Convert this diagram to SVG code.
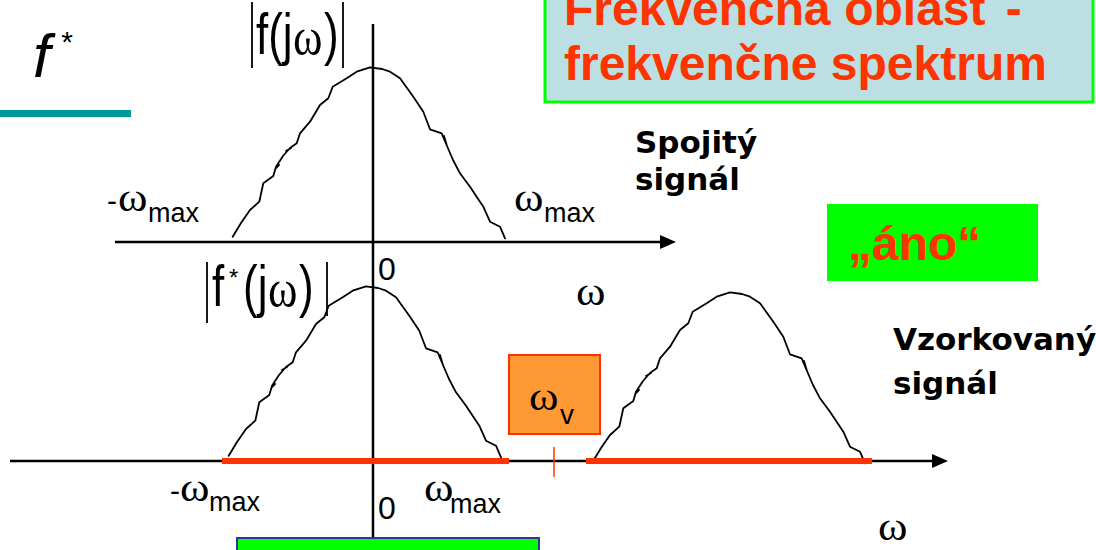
<svg xmlns="http://www.w3.org/2000/svg" xmlns:xlink="http://www.w3.org/1999/xlink" width="1096" height="550" viewBox="0 0 1096 550">
<defs>
<style>
.ax{stroke:#000;stroke-width:2.5;fill:none}
.curve{stroke:#000;stroke-width:1.8;fill:none;stroke-linejoin:round;stroke-linecap:round}
.red{stroke:#FF3300;stroke-width:6;fill:none}
.sans{font-family:"Liberation Sans",Arial,sans-serif;fill:#000}
.om{font-family:"Liberation Serif","Times New Roman",serif;fill:#000;font-size:40px}
.title{font-family:"Liberation Sans",Arial,sans-serif;font-weight:bold;font-size:48px;fill:#FF3300}
.comic{font-family:"DejaVu Sans",sans-serif;font-weight:bold;font-size:31px;fill:#000}
.bar{stroke:#000;stroke-width:1.8}
</style>
<path id="hump" d="M232.7,236.7 L241,223 L250,210 L259.3,201.7 L263.3,183.3 L273.3,176 L276,166.7 L283,156 L290,148 L296.7,143.3 L300,133.3 L310,121.7 L320,105 L328.3,98.3 L332.7,86.7 L346.7,78.3 L356.7,71.7 L370,67.3 L382,69 L390,71.7 L400,78.3 L413.3,96.7 L423.3,111.7 L430,129.3 L441.7,133.3 L447,146 L453,160 L460,173.3 L470,186.7 L483.3,206.7 L490,221.7 L500,226.7 L505,238.3 M286,151 l5,-3 M276,168 l3,-3 M444,136 l3,10"/>
</defs>

<g id="title">
<rect x="545" y="-10" width="548" height="112" fill="#BBDFE2" stroke="#00FF00" stroke-width="3"/>
<text class="title" x="564" y="25">Frekvenčná oblasť -</text>
<text class="title" x="564" y="80">frekvenčne spektrum</text>
</g>

<g id="fstar">
<text class="sans" x="33" y="77" font-size="62" font-style="italic">f</text>
<text class="sans" x="60" y="52" font-size="30" font-style="italic">*</text>
<rect x="0" y="110" width="131" height="7" fill="#009999"/>
</g>

<g id="ano">
<rect x="827" y="204" width="211" height="77" fill="#00FF00"/>
<text class="title" x="848" y="260">„áno“</text>
</g>

<g id="spojity">
<text class="comic" x="635" y="153" font-size="32">Spojitý</text>
<text class="comic" x="635" y="190" font-size="32">signál</text>
</g>

<g id="vzorkovany">
<text class="comic" x="893" y="350">Vzorkovaný</text>
<text class="comic" x="893" y="394">signál</text>
</g>

<g id="connectors">
<line class="ax" x1="373" y1="24" x2="373" y2="537"/>
<line class="ax" x1="115" y1="242" x2="662" y2="242"/>
<polygon points="676,242 660,235 660,249" fill="#000"/>
<line class="ax" x1="10" y1="461" x2="934" y2="461"/>
<polygon points="948,461 932,454 932,468" fill="#000"/>
<use xlink:href="#hump" class="curve"/>
<use xlink:href="#hump" class="curve" transform="translate(-4,219)"/>
<use xlink:href="#hump" class="curve" transform="translate(360,225)"/>
<line class="red" x1="222" y1="461" x2="509" y2="461"/>
<line class="red" x1="586" y1="461" x2="872" y2="461"/>
<line x1="554" y1="447" x2="554" y2="477" stroke="#FF3300" stroke-width="1.5"/>
</g>

<g id="label-fjw">
<line class="bar" x1="252" y1="2" x2="252" y2="68"/>
<line class="bar" x1="343" y1="2" x2="343" y2="68"/>
<text class="sans" font-size="44" transform="translate(256,54) scale(1,1.3)">f(j</text>
<text class="om" transform="translate(293,54) scale(1.12,1.3)">ω</text>
<text class="sans" font-size="44" transform="translate(324,54) scale(1,1.3)">)</text>
</g>

<g id="label-fstarjw">
<line class="bar" x1="207" y1="262" x2="207" y2="323"/>
<line class="bar" x1="327" y1="262" x2="327" y2="316"/>
<text class="sans" font-size="44" transform="translate(212,306) scale(1,1.3)">f</text>
<text class="sans" font-size="24" x="229" y="286">*</text>
<text class="sans" font-size="44" transform="translate(243,306) scale(1,1.3)">(j</text>
<text class="om" transform="translate(268,306) scale(1.12,1.3)">ω</text>
<text class="sans" font-size="44" transform="translate(299,306) scale(1,1.3)">)</text>
</g>

<g id="labels-top">
<text class="sans" font-size="30" x="107" y="211">-</text>
<text class="om" transform="translate(118,211) scale(1.12,1)">ω</text>
<text class="sans" font-size="27" x="148" y="222">max</text>
<text class="om" transform="translate(514,211) scale(1.12,1)">ω</text>
<text class="sans" font-size="27" x="544" y="222">max</text>
<text class="sans" font-size="32" x="378" y="280">0</text>
<text class="om" transform="translate(576,305) scale(1.12,1)">ω</text>
</g>

<g id="labels-bottom">
<text class="sans" font-size="30" x="170" y="501">-</text>
<text class="om" transform="translate(180,501) scale(1.12,1)">ω</text>
<text class="sans" font-size="27" x="209" y="511">max</text>
<text class="om" transform="translate(424,501) scale(1.12,1)">ω</text>
<text class="sans" font-size="27" x="450" y="513">max</text>
<text class="sans" font-size="32" x="378" y="519">0</text>
<text class="om" transform="translate(878,540) scale(1.12,1)">ω</text>
</g>

<g id="omega-v">
<rect x="509" y="355" width="91" height="79" fill="#FF9933" stroke="#FF3300" stroke-width="2"/>
<text class="om" transform="translate(529,410) scale(1.12,1)">ω</text>
<text class="sans" font-size="28" x="560" y="424">v</text>
</g>

<g id="bottom-box">
<rect x="237" y="538" width="302" height="30" fill="#00FF00" stroke="#333399" stroke-width="2"/>
</g>
</svg>
